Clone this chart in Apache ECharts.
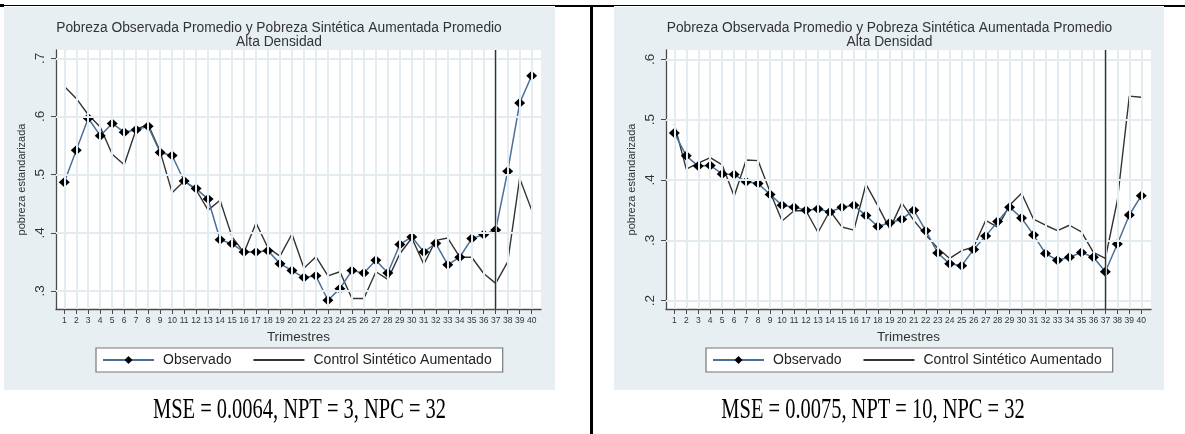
<!DOCTYPE html>
<html><head><meta charset="utf-8">
<script src="https://cdn.jsdelivr.net/npm/echarts@6/dist/echarts.min.js"></script>
<style>html,body{margin:0;padding:0;background:#fff}#c{width:1185px;height:434px}</style>
</head><body><div id="c"></div>
<script>
// ---- data ----
const trimestres = [1,2,3,4,5,6,7,8,9,10,11,12,13,14,15,16,17,18,19,20,21,22,23,24,25,26,27,28,29,30,31,32,33,34,35,36,37,38,39,40];
const observadoA = [0.487,0.542,0.597,0.567,0.588,0.573,0.577,0.583,0.538,0.533,0.489,0.476,0.458,0.388,0.381,0.367,0.367,0.369,0.347,0.335,0.323,0.326,0.284,0.304,0.335,0.331,0.353,0.331,0.380,0.393,0.367,0.382,0.345,0.358,0.390,0.397,0.405,0.506,0.623,0.670];
const controlA = [0.652,0.631,0.603,0.582,0.535,0.517,0.578,0.586,0.540,0.469,0.489,0.474,0.439,0.456,0.393,0.366,0.417,0.374,0.360,0.398,0.339,0.359,0.326,0.333,0.287,0.287,0.333,0.320,0.364,0.391,0.346,0.387,0.391,0.358,0.358,0.330,0.313,0.350,0.494,0.439];
const observadoB = [0.478,0.440,0.423,0.424,0.410,0.409,0.397,0.394,0.376,0.358,0.355,0.350,0.352,0.347,0.355,0.358,0.341,0.323,0.329,0.335,0.350,0.316,0.279,0.261,0.258,0.285,0.307,0.331,0.355,0.337,0.309,0.278,0.267,0.272,0.280,0.272,0.248,0.294,0.342,0.374];
const controlB = [0.493,0.418,0.428,0.437,0.425,0.373,0.433,0.432,0.380,0.332,0.349,0.349,0.313,0.349,0.322,0.317,0.393,0.357,0.319,0.362,0.333,0.309,0.287,0.270,0.283,0.289,0.333,0.322,0.358,0.378,0.335,0.325,0.316,0.325,0.314,0.280,0.270,0.366,0.539,0.537];
const yTicksA = [0.3,0.4,0.5,0.6,0.7];
const yTicksB = [0.2,0.3,0.4,0.5,0.6];
const treatStart = 37;
const titleLine1 = 'Pobreza Observada Promedio y Pobreza Sintética Aumentada Promedio';
const titleLine2 = 'Alta Densidad';
const yName = 'pobreza estandarizada';
const xName = 'Trimestres';
const nameObs = 'Observado';
const nameCtrl = 'Control Sintético Aumentado';
const statsA = 'MSE = 0.0064, NPT = 3, NPC = 32';
const statsB = 'MSE = 0.0075, NPT = 10, NPC = 32';

// ---- styling ----
const FONT = '"Liberation Sans", Arial, sans-serif';
const SERIF = '"Liberation Serif", serif';
const BG = '#e8eff2';
const GRIDC = '#e3edf1';
const AXC = '#4a4a4a';
const BLUE = '#4a7099';
const DIAMOND = 'path://M5,0L10,5L5,10L0,5Z';
const pairs = arr => arr.map((v,i)=>[trimestres[i], v]);

function xAxisCfg(idx, min, max){
  return {type:'value', gridIndex:idx, min:min, max:max,
    name:xName, nameLocation:'middle', nameGap:17,
    nameTextStyle:{fontFamily:FONT, fontSize:13.5, color:'#333'},
    axisLine:{show:true, lineStyle:{color:AXC, width:1.3}},
    axisTick:{show:true, length:5, customValues:trimestres, lineStyle:{color:AXC, width:1}},
    axisLabel:{customValues:trimestres, fontFamily:FONT, fontSize:8.5, color:'#333', margin:7},
    splitLine:{show:false}};
}
function yAxisCfg(idx, min, max, ticks){
  return {type:'value', gridIndex:idx, min:min, max:max,
    name:yName, nameLocation:'middle', nameRotate:90, nameGap:29,
    nameTextStyle:{fontFamily:FONT, fontSize:11, color:'#333'},
    axisLine:{show:true, lineStyle:{color:AXC, width:1.3}},
    axisTick:{show:true, length:5, customValues:ticks, lineStyle:{color:AXC, width:1}},
    axisLabel:{customValues:ticks, rotate:90, fontFamily:FONT, fontSize:13.5, color:'#333', margin:9,
      formatter:v=>v.toFixed(1).replace(/^0/,'')},
    splitLine:{show:false}};
}
function gridSeries(idx, ticks){
  return {type:'line', xAxisIndex:idx, yAxisIndex:idx, data:[], silent:true, z:1,
    markLine:{silent:true, symbol:'none', animation:false, label:{show:false},
      lineStyle:{color:GRIDC, width:2, type:'solid'},
      emphasis:{disabled:true},
      data:[...trimestres.map(v=>({xAxis:v})), ...ticks.map(v=>({yAxis:v}))]}};
}
function obsSeries(idx, data){
  return {name:nameObs, type:'line', xAxisIndex:idx, yAxisIndex:idx, data:pairs(data),
    symbol:DIAMOND, symbolSize:[11,10], showSymbol:true, animation:false, z:4,
    lineStyle:{color:BLUE, width:1.5}, itemStyle:{color:'#000'}};
}
function ctrlSeries(idx, data){
  return {name:nameCtrl, type:'line', xAxisIndex:idx, yAxisIndex:idx, data:pairs(data),
    symbol:'none', animation:false, z:3,
    lineStyle:{color:'#333', width:1.4}, itemStyle:{color:'#333'},
    markLine:{silent:true, symbol:'none', animation:false, label:{show:false},
      lineStyle:{color:'#333', width:1.4, type:'solid'}, emphasis:{disabled:true},
      data:[{xAxis:treatStart}]}};
}
function legendCfg(left){
  return {left:left, top:348, orient:'horizontal',
    data:[nameObs, {name:nameCtrl, itemStyle:{opacity:0}}],
    itemWidth:51, itemHeight:10, itemGap:21, selectedMode:false,
    backgroundColor:'#fff', borderColor:'#777', borderWidth:1.2, borderRadius:0,
    padding:[5,11,5,6],
    textStyle:{fontFamily:FONT, fontSize:14, color:'#222', padding:[0,0,0,4]}};
}
function txt(x,y,t,font,size,color){
  return {type:'text', silent:true, style:{x:x, y:y, text:t, fontFamily:font, fontSize:size, fill:color, align:'center', verticalAlign:'middle'}};
}
function stxt(x,y,t){
  return {type:'text', silent:true, x:x, y:y, scaleX:0.705, scaleY:1,
    style:{x:0, y:0, text:t, fontFamily:SERIF, fontSize:29, fill:'#000', align:'center', verticalAlign:'middle'}};
}

const option = {
  animation:false,
  backgroundColor:'#fff',
  graphic:{elements:[
    {type:'rect', z:-10, silent:true, shape:{x:4,y:7,width:551,height:383}, style:{fill:BG}},
    {type:'rect', z:-10, silent:true, shape:{x:614,y:7,width:550,height:383}, style:{fill:BG}},
    {type:'rect', silent:true, shape:{x:0,y:5,width:1185,height:1}, style:{fill:'#000'}},
    {type:'rect', silent:true, shape:{x:0,y:4,width:4,height:3}, style:{fill:'#000'}},
    {type:'rect', silent:true, shape:{x:555,y:5,width:59,height:2}, style:{fill:'#000'}},
    {type:'rect', silent:true, shape:{x:1164,y:5,width:21,height:2}, style:{fill:'#000'}},
    {type:'rect', silent:true, shape:{x:590,y:5,width:3,height:429}, style:{fill:'#000'}},
    txt(279,28,titleLine1,FONT,13.8,'#333'),
    txt(279,42,titleLine2,FONT,13.8,'#333'),
    txt(889.5,28,titleLine1,FONT,13.8,'#333'),
    txt(889.5,42,titleLine2,FONT,13.8,'#333'),
    stxt(299.5,410,statsA),
    stxt(873,410,statsB)
  ]},
  grid:[
    {left:56, top:50, width:485, height:259, show:true, backgroundColor:'#fff', borderWidth:0},
    {left:666, top:50, width:485, height:259, show:true, backgroundColor:'#fff', borderWidth:0}
  ],
  xAxis:[xAxisCfg(0,0.31,40.78), xAxisCfg(1,0.306,40.81)],
  yAxis:[yAxisCfg(0,0.269,0.7143,yTicksA), yAxisCfg(1,0.1862,0.6154,yTicksB)],
  legend:[legendCfg(96), legendCfg(706)],
  series:[
    gridSeries(0,yTicksA), gridSeries(1,yTicksB),
    ctrlSeries(0,controlA), obsSeries(0,observadoA),
    ctrlSeries(1,controlB), obsSeries(1,observadoB)
  ]
};
const chart = echarts.init(document.getElementById('c'), null, {renderer:'canvas'});
chart.setOption(option);
</script></body></html>
